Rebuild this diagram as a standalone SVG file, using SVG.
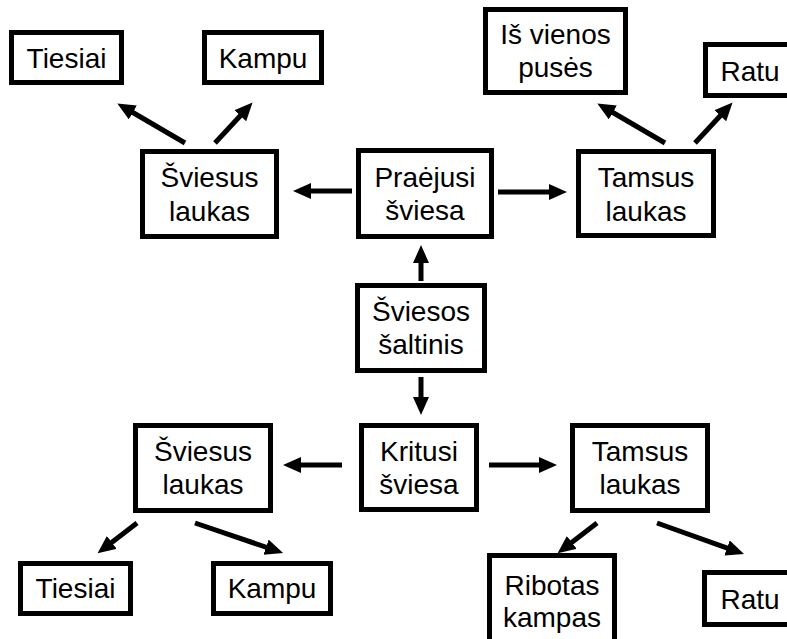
<svg xmlns="http://www.w3.org/2000/svg" width="787" height="639" viewBox="0 0 787 639">
<defs>
<style>
.box{fill:#fff;stroke:#000;stroke-width:5}
.lbl{font-family:"Liberation Sans",Arial,sans-serif;font-size:28px;fill:#000;text-anchor:middle}
.arr{stroke:#000;stroke-width:5;fill:none;marker-end:url(#ah)}
</style>
<marker id="ah" markerUnits="userSpaceOnUse" markerWidth="20" markerHeight="18" refX="1" refY="8" orient="auto">
<path d="M0,0 L18,8 L0,16 z" fill="#000"/>
</marker>
</defs>
<rect width="787" height="639" fill="#fff"/>
<g id="connectors">
<line class="arr" x1="185" y1="143" x2="132" y2="112"/>
<line class="arr" x1="215" y1="143" x2="241" y2="115"/>
<line class="arr" x1="352" y1="191" x2="310" y2="191"/>
<line class="arr" x1="498" y1="192" x2="550" y2="192"/>
<line class="arr" x1="665" y1="143" x2="612" y2="112"/>
<line class="arr" x1="695" y1="143" x2="721" y2="115"/>
<line class="arr" x1="421" y1="281" x2="421" y2="262"/>
<line class="arr" x1="421" y1="377" x2="421" y2="398"/>
<line class="arr" x1="342" y1="465" x2="300" y2="465"/>
<line class="arr" x1="489" y1="465" x2="540" y2="465"/>
<line class="arr" x1="137" y1="523" x2="111" y2="543"/>
<line class="arr" x1="195" y1="523" x2="267" y2="547.5"/>
<line class="arr" x1="597" y1="523" x2="571" y2="543"/>
<line class="arr" x1="657" y1="523" x2="728" y2="548.3"/>
</g>
<g id="tiesiai-top"><rect class="box" x="11.5" y="32.5" width="110" height="50"/><text class="lbl" x="66.5" y="68">Tiesiai</text></g>
<g id="kampu-top"><rect class="box" x="204.5" y="32.5" width="117" height="50"/><text class="lbl" x="263" y="68">Kampu</text></g>
<g id="is-vienos-puses"><rect class="box" x="485.5" y="9.5" width="140" height="83"/><text class="lbl" x="555.5" y="44">Iš vienos</text><text class="lbl" x="555.5" y="77">pusės</text></g>
<g id="ratu-top"><rect class="box" x="705.5" y="44.5" width="100" height="51"/><text class="lbl" x="750" y="81">Ratu</text></g>
<g id="sviesus-laukas-top"><rect class="box" x="142.5" y="151.5" width="134" height="85"/><text class="lbl" x="209.5" y="187">Šviesus</text><text class="lbl" x="209.5" y="221">laukas</text></g>
<g id="praejusi-sviesa"><rect class="box" x="358.5" y="150.5" width="133" height="86"/><text class="lbl" x="425" y="187">Praėjusi</text><text class="lbl" x="425" y="220">šviesa</text></g>
<g id="tamsus-laukas-top"><rect class="box" x="578.5" y="151.5" width="135" height="84"/><text class="lbl" x="646" y="187">Tamsus</text><text class="lbl" x="646" y="221">laukas</text></g>
<g id="sviesos-saltinis"><rect class="box" x="357.5" y="285.5" width="127" height="85"/><text class="lbl" x="421" y="321">Šviesos</text><text class="lbl" x="421" y="354">šaltinis</text></g>
<g id="sviesus-laukas-bottom"><rect class="box" x="135.5" y="425.5" width="135" height="85"/><text class="lbl" x="203" y="461">Šviesus</text><text class="lbl" x="203" y="494">laukas</text></g>
<g id="kritusi-sviesa"><rect class="box" x="361.5" y="425.5" width="115" height="84"/><text class="lbl" x="419" y="461">Kritusi</text><text class="lbl" x="419" y="494">šviesa</text></g>
<g id="tamsus-laukas-bottom"><rect class="box" x="572.5" y="425.5" width="135" height="85"/><text class="lbl" x="640" y="461">Tamsus</text><text class="lbl" x="640" y="494">laukas</text></g>
<g id="tiesiai-bottom"><rect class="box" x="20.5" y="563.5" width="110" height="50"/><text class="lbl" x="75.5" y="598">Tiesiai</text></g>
<g id="kampu-bottom"><rect class="box" x="213.5" y="563.5" width="117" height="50"/><text class="lbl" x="272" y="598">Kampu</text></g>
<g id="ribotas-kampas"><rect class="box" x="489.5" y="555.5" width="125" height="100"/><text class="lbl" x="552" y="595">Ribotas</text><text class="lbl" x="552" y="627">kampas</text></g>
<g id="ratu-bottom"><rect class="box" x="704.5" y="572.5" width="100" height="52"/><text class="lbl" x="750" y="609">Ratu</text></g>
</svg>
